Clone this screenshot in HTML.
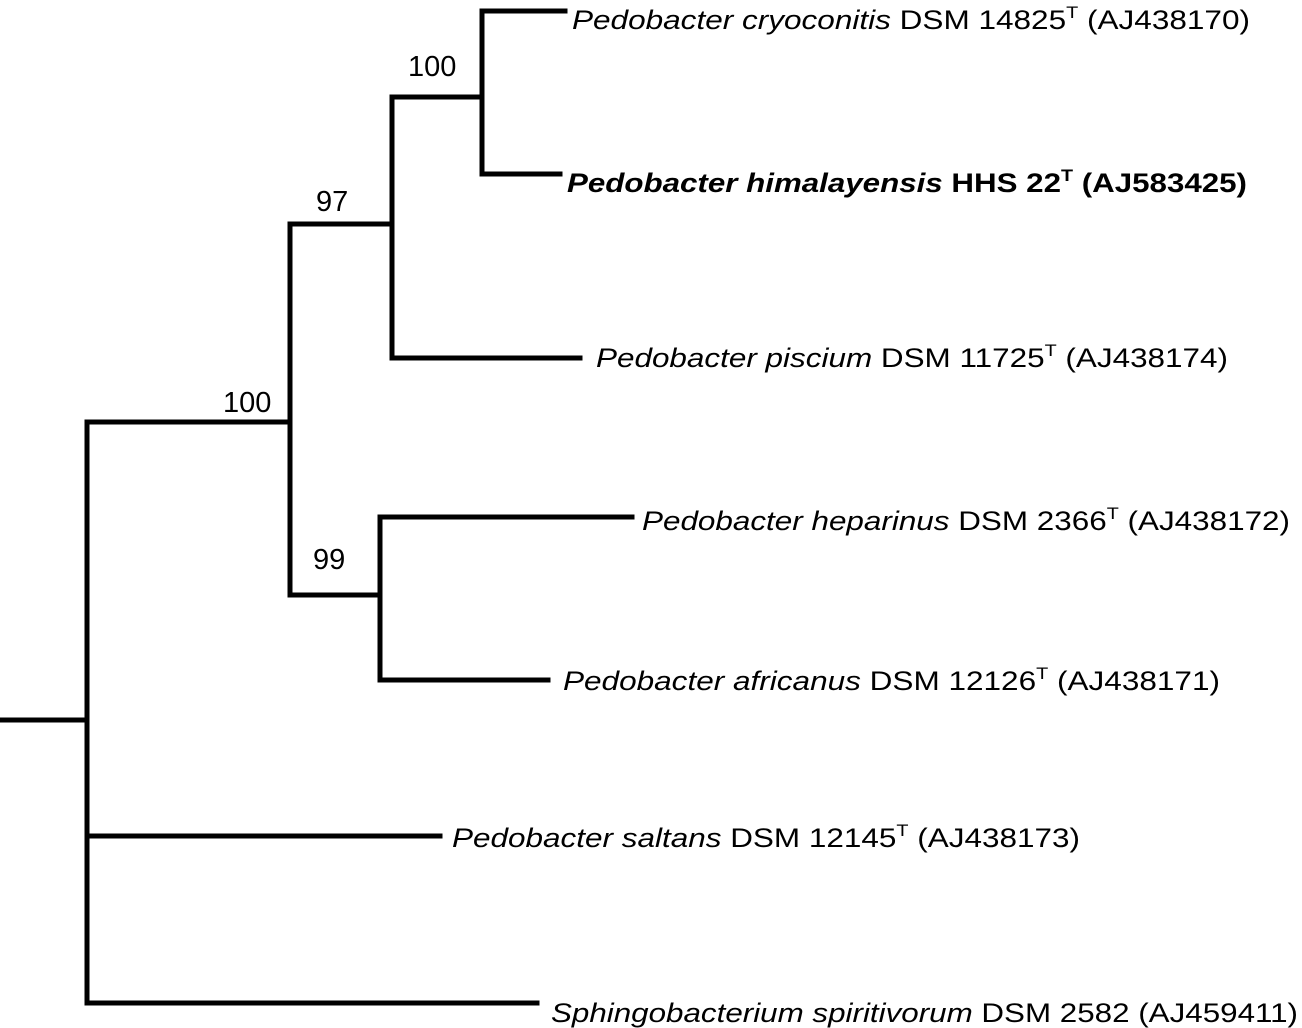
<!DOCTYPE html>
<html><head><meta charset="utf-8"><style>
html,body{margin:0;padding:0;background:#fff}
svg{display:block}
text{font-family:"Liberation Sans",Arial,sans-serif;fill:#000}
</style></head><body>
<svg id="tree" width="1302" height="1028" viewBox="0 0 1302 1028" xmlns="http://www.w3.org/2000/svg">
<g id="branches" stroke="#000" stroke-width="5" fill="none" stroke-linecap="square"></g>
<g id="labels"></g>
</svg>
<script>
// Tree structure data
const nodeNames = ["root","n1","n2","n3","n4","n5"];
const leafNames = ["cryoconitis","himalayensis","piscium","heparinus","africanus","saltans","sphingo"];
const bootstrapValues = [100, 97, 100, 99];
const bootstrapNodes = ["n2","n3","n4","n5"];

const svgNS = "http://www.w3.org/2000/svg";
const br = document.getElementById('branches');
const lb = document.getElementById('labels');

function line(x1,y1,x2,y2,name){
  const l=document.createElementNS(svgNS,'line');
  l.setAttribute('x1',x1);l.setAttribute('y1',y1);l.setAttribute('x2',x2);l.setAttribute('y2',y2);
  
  
  br.appendChild(l);
}
// root stem
line(0,720,87,720,'root-branch');
// main vertical
line(87,422,87,1003,'root-vertical');
line(87,422,290,422,'branch-pedobacter-clade');
line(290,224,290,595,'vertical-pedobacter-clade');
line(290,224,392,224,'branch-97');
line(392,97,392,358,'vertical-97');
line(392,97,482,97,'branch-100-top');
line(482,11,482,174,'vertical-100-top');
line(482,11,565,11,'leaf-cryoconitis');
line(482,174,560,174,'leaf-himalayensis');
line(392,358,580,358,'leaf-piscium');
line(290,595,380,595,'branch-99');
line(380,517,380,680,'vertical-99');
line(380,517,632,517,'leaf-heparinus');
line(380,680,548,680,'leaf-africanus');
line(87,836,440,836,'leaf-saltans');
line(87,1003,537,1003,'leaf-sphingobacterium');

function txt(x,y,parts,w,name,bold,size){
  const t=document.createElementNS(svgNS,'text');
  t.setAttribute('x',x);t.setAttribute('y',y);
  t.setAttribute('font-size',size||27);
  if(bold) t.setAttribute('font-weight','bold');
  if(w){t.setAttribute('textLength',w);t.setAttribute('lengthAdjust','spacingAndGlyphs');}
  
  
  parts.forEach(p=>{
    const s=document.createElementNS(svgNS,'tspan');
    s.textContent=p[0];
    if(p[1]==='i') s.setAttribute('font-style','italic');
    if(p[1]==='sup'){s.setAttribute('font-size','17');s.setAttribute('dy','-11');}
    if(p[1]==='after'){s.setAttribute('dy','11');}
    t.appendChild(s);
  });
  lb.appendChild(t);
}
txt(572,29,[["Pedobacter cryoconitis",'i'],[" DSM 14825"],["T",'sup'],[" (AJ438170)",'after']],678,'label-cryoconitis');
txt(567,192,[["Pedobacter himalayensis",'i'],[" HHS 22"],["T",'sup'],[" (AJ583425)",'after']],680,'label-himalayensis',true);
txt(596,367,[["Pedobacter piscium",'i'],[" DSM 11725"],["T",'sup'],[" (AJ438174)",'after']],632,'label-piscium');
txt(642,530,[["Pedobacter heparinus",'i'],[" DSM 2366"],["T",'sup'],[" (AJ438172)",'after']],648,'label-heparinus');
txt(563,690,[["Pedobacter africanus",'i'],[" DSM 12126"],["T",'sup'],[" (AJ438171)",'after']],657,'label-africanus');
txt(452,847,[["Pedobacter saltans",'i'],[" DSM 12145"],["T",'sup'],[" (AJ438173)",'after']],628,'label-saltans');
txt(551,1022,[["Sphingobacterium spiritivorum",'i'],[" DSM 2582 (AJ459411)"]],747,'label-sphingobacterium');

// bootstrap values
const bsPos = {n2:[408,76],n3:[316,211],n4:[223,412],n5:[313,569]};
bootstrapNodes.forEach((n,i)=>{
  txt(bsPos[n][0],bsPos[n][1],[[String(bootstrapValues[i])]],null,'bootstrap-'+n,false,29);
});
</script>
</body></html>
